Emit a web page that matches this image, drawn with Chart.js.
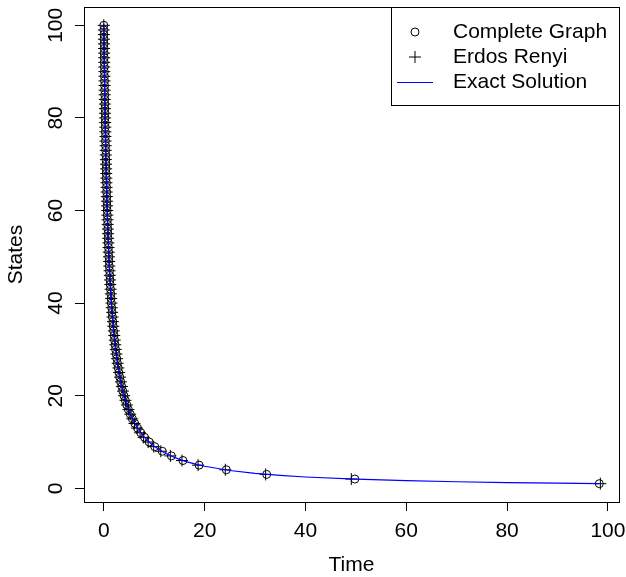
<!DOCTYPE html>
<html lang="en">
<head>
<meta charset="UTF-8">
<title>States vs Time</title>
<script src="https://cdn.jsdelivr.net/npm/chart.js@4.4.0/dist/chart.umd.min.js"></script>
<style>
  body { margin: 0; background: #fff; }
  canvas { display: block; }
</style>
</head>
<body>
<canvas id="chart" width="626" height="577"></canvas>
<script>
// states go 100 -> 1, one point per state
const states = [100, 99, 98, 97, 96, 95, 94, 93, 92, 91,
  90, 89, 88, 87, 86, 85, 84, 83, 82, 81,
  80, 79, 78, 77, 76, 75, 74, 73, 72, 71,
  70, 69, 68, 67, 66, 65, 64, 63, 62, 61,
  60, 59, 58, 57, 56, 55, 54, 53, 52, 51,
  50, 49, 48, 47, 46, 45, 44, 43, 42, 41,
  40, 39, 38, 37, 36, 35, 34, 33, 32, 31,
  30, 29, 28, 27, 26, 25, 24, 23, 22, 21,
  20, 19, 18, 17, 16, 15, 14, 13, 12, 11,
  10, 9, 8, 7, 6, 5, 4, 3, 2, 1];

// time (Complete Graph, circles)
const completeTimes = [0, 0.01, 0.02, 0.03, 0.04, 0.05, 0.06, 0.08, 0.09, 0.10,
  0.11, 0.12, 0.14, 0.15, 0.16, 0.18, 0.19, 0.21, 0.22, 0.24,
  0.25, 0.27, 0.28, 0.30, 0.32, 0.33, 0.35, 0.37, 0.39, 0.41,
  0.43, 0.45, 0.47, 0.49, 0.52, 0.54, 0.56, 0.59, 0.61, 0.64,
  0.67, 0.70, 0.72, 0.75, 0.79, 0.82, 0.85, 0.89, 0.92, 0.96,
  1.00, 1.04, 1.08, 1.13, 1.17, 1.22, 1.27, 1.33, 1.38, 1.44,
  1.50, 1.56, 1.63, 1.70, 1.78, 1.86, 1.94, 2.03, 2.13, 2.23,
  2.33, 2.45, 2.57, 2.70, 2.85, 3.00, 3.17, 3.35, 3.55, 3.76,
  4.00, 4.26, 4.56, 4.88, 5.25, 5.67, 6.14, 6.69, 7.33, 8.09,
  9.0, 10.1, 11.6, 13.4, 15.7, 18.9, 24.3, 32.3, 49.8, 98.3];

// Erdos Renyi, plus signs
const erdosTimes = [0, 0.01, 0.02, 0.03, 0.04, 0.05, 0.07, 0.08, 0.09, 0.10,
  0.11, 0.13, 0.14, 0.15, 0.17, 0.18, 0.20, 0.21, 0.23, 0.24,
  0.26, 0.27, 0.29, 0.31, 0.32, 0.34, 0.36, 0.38, 0.40, 0.42,
  0.44, 0.46, 0.48, 0.50, 0.53, 0.55, 0.57, 0.60, 0.62, 0.65,
  0.68, 0.71, 0.74, 0.77, 0.80, 0.83, 0.87, 0.90, 0.94, 0.98,
  1.02, 1.06, 1.10, 1.15, 1.19, 1.24, 1.29, 1.35, 1.40, 1.46,
  1.52, 1.59, 1.66, 1.73, 1.81, 1.89, 1.98, 2.07, 2.17, 2.28,
  2.39, 2.51, 2.63, 2.76, 2.90, 3.05, 3.22, 3.40, 3.59, 3.80,
  4.04, 4.30, 4.58, 4.90, 5.24, 5.63, 6.08, 6.60, 7.20, 7.90,
  8.8, 9.9, 11.3, 13.2, 15.5, 18.7, 24.1, 32.1, 49.1, 98.5];

// exact solution curve
const exactTimes = [0, 0.1, 0.2, 0.3, 0.4, 0.5, 0.6, 0.8, 1.0, 1.25,
  1.5, 1.75, 2, 2.5, 3, 3.5, 4, 5, 6, 7,
  8, 9, 10, 12, 14, 16, 18, 20, 25, 30,
  35, 40, 50, 60, 70, 80, 90, 98.3];
const exactStates = [100, 90.9, 83.3, 76.9, 71.4, 66.7, 62.5, 55.6, 50, 44.4,
  40, 36.4, 33.3, 28.6, 25, 22.2, 20, 16.7, 14.3, 12.5,
  11.1, 10, 9.09, 7.69, 6.67, 5.88, 5.26, 4.76, 3.85, 3.23,
  2.78, 2.44, 1.96, 1.64, 1.41, 1.23, 1.10, 1.01];

const xTicks = [0, 20, 40, 60, 80, 100];
const yTicks = [0, 20, 40, 60, 80, 100];
const legendLabels = ['Complete Graph', 'Erdos Renyi', 'Exact Solution'];

const FONT = '21px "Liberation Sans", Arial, sans-serif';

function toPoints(xs, ys) {
  return xs.map((x, i) => ({ x: x, y: ys[i] }));
}

// box, tick labels, axis titles and legend drawn R-style
const rDecor = {
  id: 'rDecor',
  afterDraw(chart) {
    const ctx = chart.ctx;
    const a = chart.chartArea;
    const xs = chart.scales.x, ys = chart.scales.y;
    ctx.save();
    ctx.strokeStyle = '#000';
    ctx.lineWidth = 1;
    ctx.strokeRect(Math.round(a.left) + 0.5, Math.round(a.top) + 0.5,
      Math.round(a.right - a.left), Math.round(a.bottom - a.top));

    ctx.fillStyle = '#000';
    ctx.font = FONT;
    ctx.textAlign = 'center';
    ctx.textBaseline = 'middle';
    xTicks.forEach(v => ctx.fillText(String(v), xs.getPixelForValue(v), 531));
    ctx.fillText('Time', (a.left + a.right) / 2, 565);

    yTicks.forEach(v => {
      ctx.save();
      ctx.translate(56, ys.getPixelForValue(v));
      ctx.rotate(-Math.PI / 2);
      ctx.fillText(String(v), 0, 0);
      ctx.restore();
    });
    ctx.save();
    ctx.translate(16, (a.top + a.bottom) / 2);
    ctx.rotate(-Math.PI / 2);
    ctx.fillText('States', 0, 0);
    ctx.restore();

    // legend
    const lx = 391, ly = Math.round(a.top), lw = Math.round(a.right) - lx, lh = 98;
    ctx.fillStyle = '#fff';
    ctx.fillRect(lx, ly, lw, lh);
    ctx.strokeRect(lx + 0.5, ly + 0.5, lw, lh);
    const rowY = [32, 57, 82];
    const symX = 415;
    ctx.strokeStyle = '#000';
    ctx.beginPath();
    ctx.arc(symX, rowY[0], 4, 0, Math.PI * 2);
    ctx.stroke();
    ctx.beginPath();
    ctx.moveTo(symX - 6, rowY[1]); ctx.lineTo(symX + 6, rowY[1]);
    ctx.moveTo(symX, rowY[1] - 6); ctx.lineTo(symX, rowY[1] + 6);
    ctx.stroke();
    ctx.strokeStyle = '#0000ff';
    ctx.beginPath();
    ctx.moveTo(397, rowY[2] + 0.5); ctx.lineTo(433, rowY[2] + 0.5);
    ctx.stroke();
    ctx.fillStyle = '#000';
    ctx.textAlign = 'left';
    legendLabels.forEach((t, i) => ctx.fillText(t, 453, rowY[i]));
    ctx.restore();
  }
};

new Chart(document.getElementById('chart'), {
  type: 'scatter',
  data: {
    datasets: [
      {
        label: legendLabels[2],
        data: toPoints(exactTimes, exactStates),
        showLine: true,
        borderColor: '#0000ff',
        borderWidth: 1.2,
        pointRadius: 0,
        tension: 0
      },
      {
        label: legendLabels[1],
        data: toPoints(erdosTimes, states),
        pointStyle: 'cross',
        pointRadius: 6,
        borderColor: '#000',
        borderWidth: 1,
        backgroundColor: 'transparent'
      },
      {
        label: legendLabels[0],
        data: toPoints(completeTimes, states),
        pointStyle: 'circle',
        pointRadius: 4,
        borderColor: '#000',
        borderWidth: 1,
        backgroundColor: 'transparent'
      }
    ]
  },
  options: {
    responsive: false,
    animation: false,
    devicePixelRatio: 1,
    layout: { padding: { top: 6, right: 6, left: 0, bottom: 0 } },
    plugins: { legend: { display: false }, tooltip: { enabled: false } },
    scales: {
      x: {
        type: 'linear',
        min: -3.93,
        max: 102.2,
        afterBuildTicks: s => { s.ticks = xTicks.map(v => ({ value: v })); },
        afterFit: s => { s.height = 75; },
        ticks: { display: false },
        border: { display: false },
        grid: { drawOnChartArea: false, drawTicks: true, tickLength: 9, color: '#000', lineWidth: 1 }
      },
      y: {
        type: 'linear',
        min: -2.96,
        max: 103.96,
        afterBuildTicks: s => { s.ticks = yTicks.map(v => ({ value: v })); },
        afterFit: s => { s.width = 84; },
        ticks: { display: false },
        border: { display: false },
        grid: { drawOnChartArea: false, drawTicks: true, tickLength: 9, color: '#000', lineWidth: 1 }
      }
    }
  },
  plugins: [rDecor]
});
</script>
</body>
</html>
